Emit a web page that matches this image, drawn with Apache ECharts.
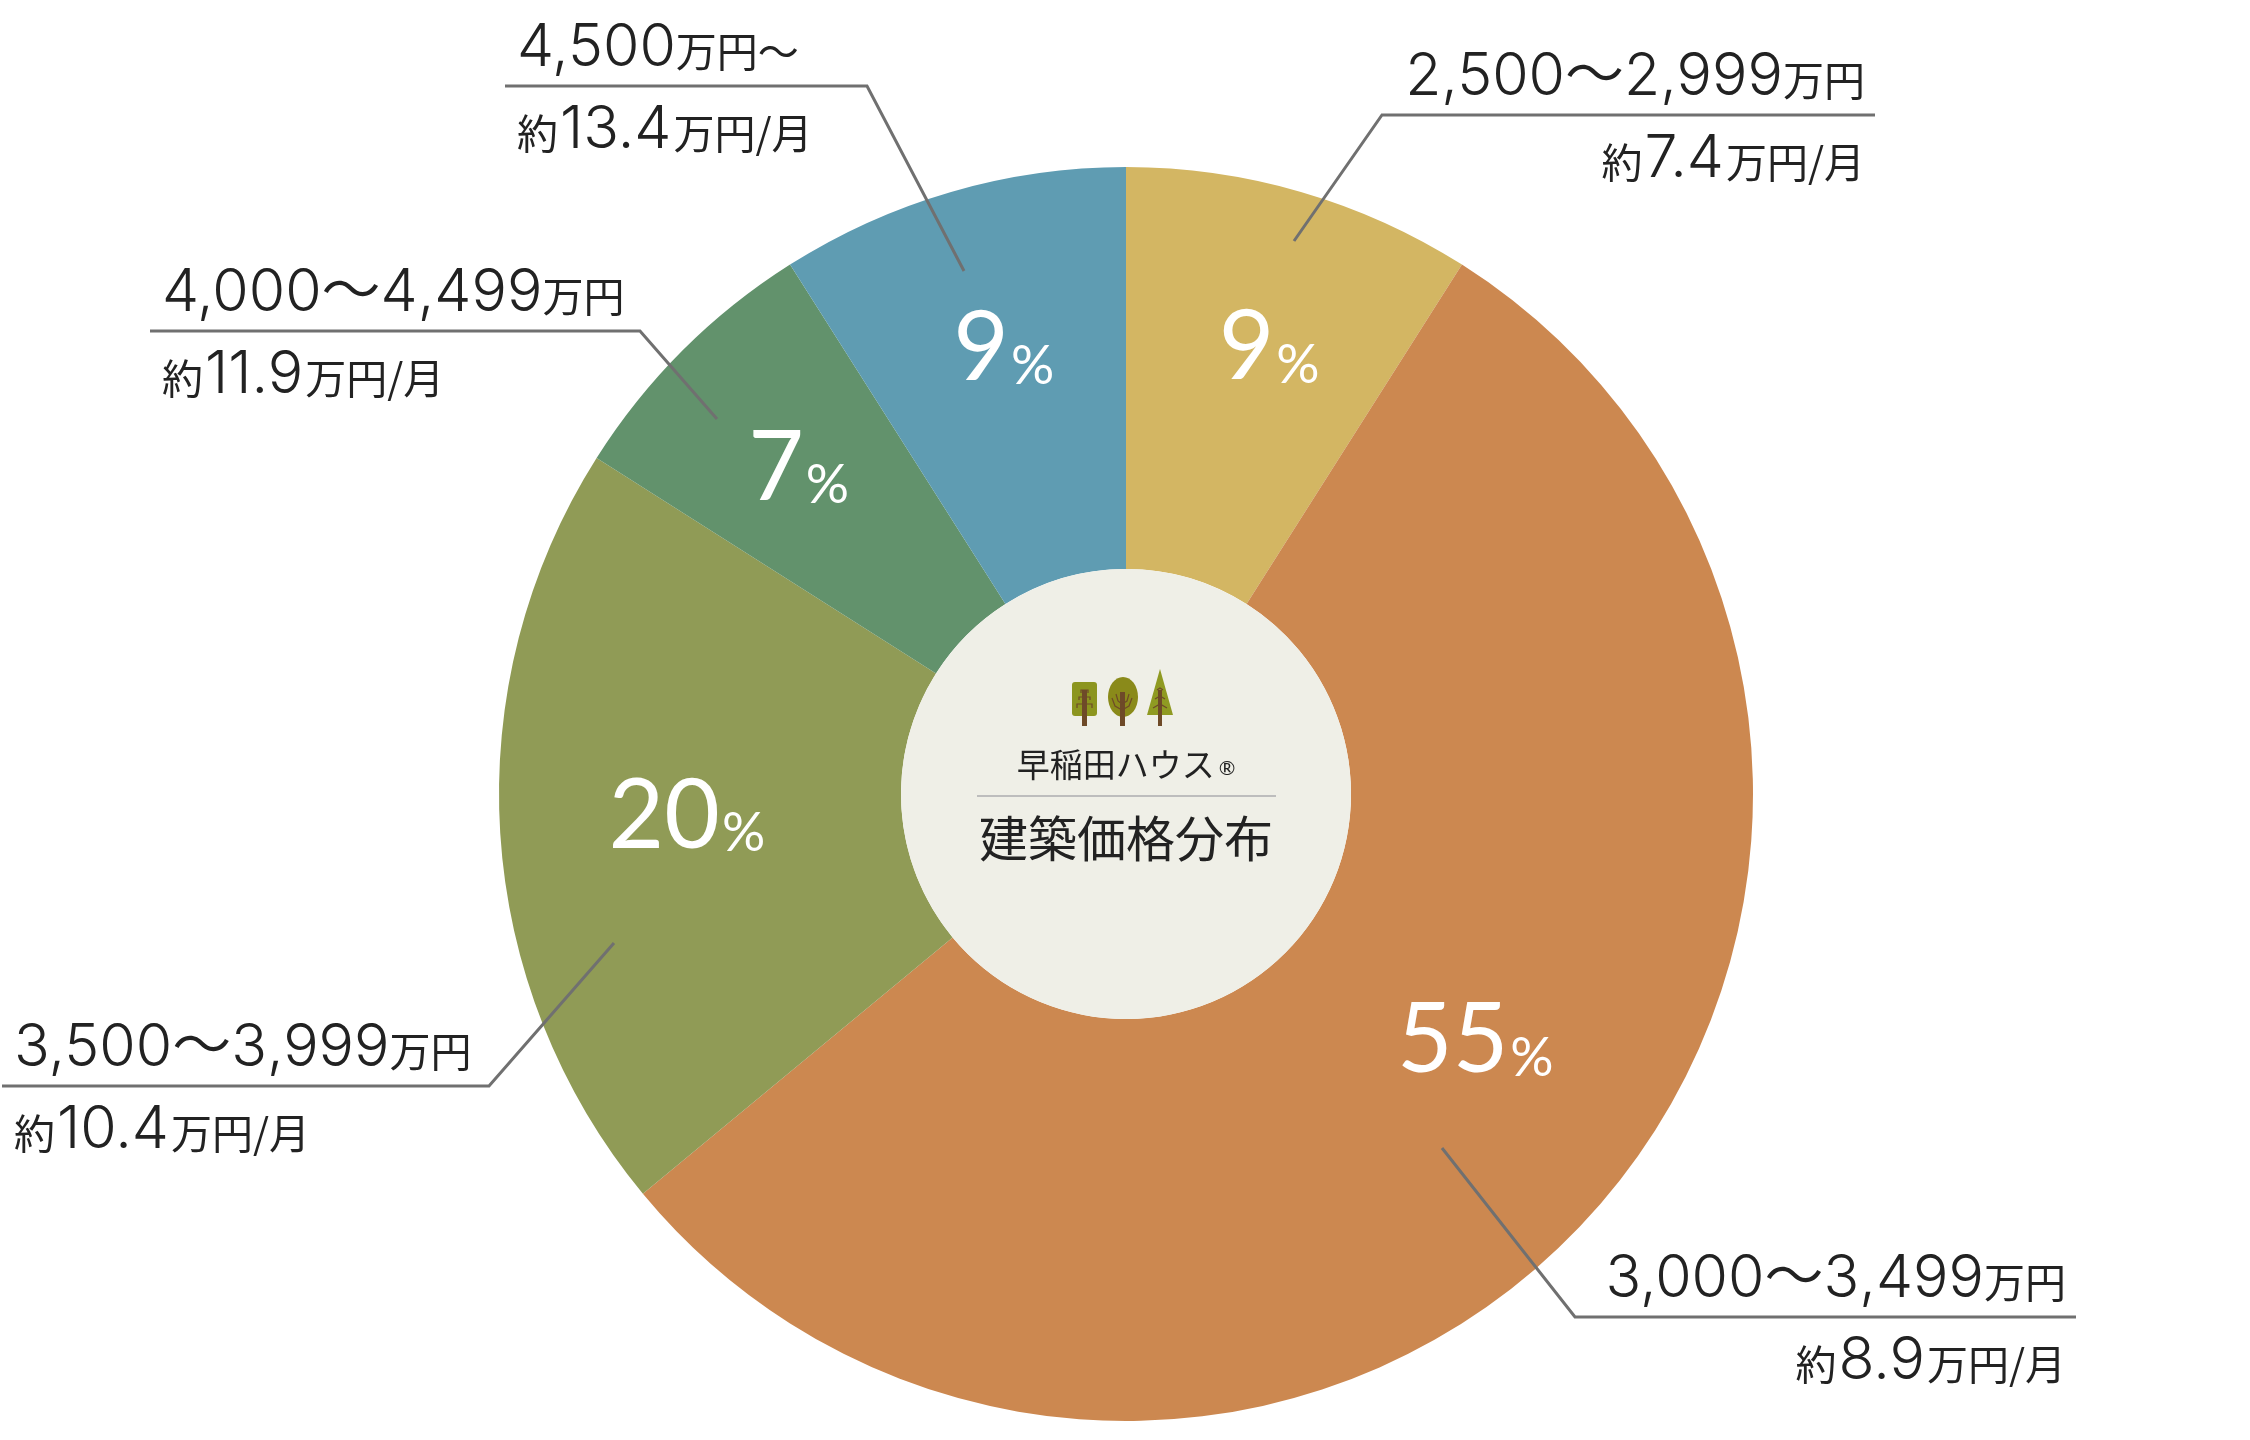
<!DOCTYPE html>
<html><head><meta charset="utf-8">
<script src="https://cdn.jsdelivr.net/npm/echarts@6/dist/echarts.min.js"></script>
<style>html,body{margin:0;padding:0;background:#fff}#c{width:2250px;height:1440px}</style>
</head><body><div id="c"></div>
<script>
// ---- data ----
const rangeMain = ['2,500～2,999', '3,000～3,499', '3,500～3,999', '4,000～4,499', '4,500'];
const rangeUnit = ['万円', '万円', '万円', '万円', '万円～'];
const shares = [9, 55, 20, 7, 9];
const monthly = ['7.4', '8.9', '10.4', '11.9', '13.4'];

// ---- styles / layout ----
const palette = ['#d3b663', '#cc8850', '#909b56', '#62926c', '#5f9cb2'];
const CX = 1126, CY = 794, R = 627, R0 = 225;
const NUMF = 'Inter, "Noto Sans CJK JP", sans-serif';
const JPF = '"Noto Sans CJK JP", sans-serif';
const PCTF = 'Lato, "Noto Sans", sans-serif';
// leader layout: start point, elbow, end x of horizontal rule, side
const leaders = [
  { s: [1294, 241], e: [1382, 115], x2: 1875, side: 'right' },
  { s: [1442, 1148], e: [1575, 1317], x2: 2076, side: 'right' },
  { s: [614, 943], e: [489, 1086], x2: 2, side: 'left' },
  { s: [717, 419], e: [640, 331], x2: 150, side: 'left' },
  { s: [964, 271], e: [867, 86], x2: 505, side: 'left' }
];
const pctNudge = [[14, -3], [2, -61], [23, -8], [0, 0], [7, -2]];

const data = shares.map((v, i) => ({ name: rangeMain[i] + rangeUnit[i], value: v }));
const clear = 'rgba(0,0,0,0)';

const chart = echarts.init(document.getElementById('c'), null, { renderer: 'canvas' });
const txt = '#222222';
const LH = 82;
const option = {
  animation: false,
  backgroundColor: '#ffffff',
  series: [
    {
      type: 'pie', silent: true, center: [CX, CY], radius: [R0, R], startAngle: 90, clockwise: true,
      avoidLabelOverlap: false, label: { show: false }, labelLine: { show: false },
      itemStyle: { borderWidth: 0 },
      color: palette,
      data: data
    },
    {
      type: 'pie', silent: true, center: [CX, CY], radius: [293, R], startAngle: 90, clockwise: true,
      avoidLabelOverlap: false, z: 3,
      itemStyle: { color: clear, borderWidth: 0 },
      label: {
        show: true, position: 'inside',
        formatter: p => '{p|' + p.value + '}{s|%}',
        rich: {
          p: { fontFamily: PCTF, fontSize: 96, color: '#ffffff', verticalAlign: 'bottom', lineHeight: 100 },
          s: { fontFamily: PCTF, fontSize: 54, color: '#ffffff', verticalAlign: 'bottom', lineHeight: 100, padding: [0, 0, 4, 2] }
        }
      },
      labelLine: { show: false },
      labelLayout: p => ({ dx: pctNudge[p.dataIndex][0], dy: pctNudge[p.dataIndex][1] }),
      data: data
    },
    {
      type: 'pie', silent: true, center: [CX, CY], radius: [R0, R], startAngle: 90, clockwise: true,
      avoidLabelOverlap: false, z: 4,
      itemStyle: { color: clear, borderWidth: 0 },
      label: {
        show: true, position: 'outside',
        formatter: p => {
          const i = p.dataIndex;
          return '{a|' + rangeMain[i] + '}{u|' + rangeUnit[i] + '}\n{y|約}{b|' + monthly[i] + '}{u2|万円/月}';
        },
        rich: {
          a: { fontFamily: NUMF, fontSize: 59, fontWeight: 350, color: txt, lineHeight: LH, verticalAlign: 'bottom' },
          u: { fontFamily: JPF, fontSize: 41, color: txt, lineHeight: LH, verticalAlign: 'bottom', padding: [0, 0, 6, 0] },
          y: { fontFamily: JPF, fontSize: 41, color: txt, lineHeight: LH, verticalAlign: 'bottom', padding: [0, 2, 6, 0] },
          b: { fontFamily: NUMF, fontSize: 59, fontWeight: 350, color: txt, lineHeight: LH, verticalAlign: 'bottom' },
          u2: { fontFamily: JPF, fontSize: 41, color: txt, lineHeight: LH, verticalAlign: 'bottom', padding: [0, 0, 6, 2] }
        }
      },
      labelLine: { show: true, lineStyle: { color: '#707070', width: 3 } },
      labelLayout: p => {
        const L = leaders[p.dataIndex];
        const right = L.side === 'right';
        return {
          x: right ? L.x2 - 10 : L.x2 + 12,
          y: L.e[1] - 8,
          align: right ? 'right' : 'left',
          verticalAlign: 'middle',
          labelLinePoints: [L.s, L.e, [L.x2, L.e[1]]]
        };
      },
      data: data
    }
  ],
  graphic: [
    { type: 'circle', z: 10, silent: true, shape: { cx: CX, cy: CY, r: R0 }, style: { fill: '#efefe7' } },
    // trees
    { type: 'rect', z: 11, shape: { x: 1072, y: 682, width: 25, height: 34, r: 3 }, style: { fill: '#8c951f' } },
    { type: 'ellipse', z: 11, shape: { cx: 1123, cy: 697, rx: 15, ry: 20 }, style: { fill: '#8a8a1a' } },
    { type: 'polygon', z: 11, shape: { points: [[1160, 669], [1173, 715], [1147, 715]] }, style: { fill: '#8f9a22' } },
    { type: 'rect', z: 12, shape: { x: 1082, y: 690, width: 5, height: 36 }, style: { fill: '#6e4a28' } },
    { type: 'rect', z: 12, shape: { x: 1120, y: 692, width: 5, height: 34 }, style: { fill: '#6e4a28' } },
    { type: 'rect', z: 12, shape: { x: 1158, y: 690, width: 4, height: 36 }, style: { fill: '#6e4a28' } },
    { type: 'polyline', z: 12, shape: { points: [[1077, 708], [1077, 704], [1092, 704], [1092, 708]] }, style: { stroke: '#6e4a28', lineWidth: 1.2, fill: null } },
    { type: 'polyline', z: 12, shape: { points: [[1079, 700], [1079, 697], [1090, 697], [1090, 700]] }, style: { stroke: '#6e4a28', lineWidth: 1.2, fill: null } },
    { type: 'polyline', z: 12, shape: { points: [[1081, 693], [1081, 690], [1088, 690], [1088, 693]] }, style: { stroke: '#6e4a28', lineWidth: 1.2, fill: null } },
    { type: 'polyline', z: 12, shape: { points: [[1112, 698], [1115, 706], [1122, 710], [1129, 706], [1132, 698]] }, style: { stroke: '#6e4a28', lineWidth: 1.2, fill: null } },
    { type: 'polyline', z: 12, shape: { points: [[1116, 694], [1118, 701], [1122, 704], [1127, 701], [1129, 694]] }, style: { stroke: '#6e4a28', lineWidth: 1.2, fill: null } },
    { type: 'polyline', z: 12, shape: { points: [[1153, 708], [1160, 704], [1167, 708]] }, style: { stroke: '#6e4a28', lineWidth: 1.2, fill: null } },
    { type: 'polyline', z: 12, shape: { points: [[1155, 699], [1160, 696], [1165, 699]] }, style: { stroke: '#6e4a28', lineWidth: 1.2, fill: null } },
    { type: 'polyline', z: 12, shape: { points: [[1157, 690], [1160, 688], [1163, 690]] }, style: { stroke: '#6e4a28', lineWidth: 1.2, fill: null } },
    // brand + title
    {
      type: 'text', z: 12, x: CX, y: 761,
      style: {
        text: '{a|早稲田ハウス}{r|®}', align: 'center', verticalAlign: 'middle',
        rich: {
          a: { fontFamily: JPF, fontSize: 33, fill: '#222222', verticalAlign: 'bottom', lineHeight: 40 },
          r: { fontFamily: 'Lato, sans-serif', fontSize: 20, fill: '#222222', verticalAlign: 'bottom', lineHeight: 40, padding: [0, 0, 2, 4] }
        }
      }
    },
    { type: 'line', z: 12, shape: { x1: 977, y1: 796, x2: 1276, y2: 796 }, style: { stroke: '#bdbdbd', lineWidth: 2 } },
    {
      type: 'text', z: 12, x: CX, y: 838,
      style: { text: '建築価格分布', fontFamily: JPF, fontSize: 49, fontWeight: 400, fill: '#222222', align: 'center', verticalAlign: 'middle' }
    }
  ]
};
chart.setOption(option);
</script>
</body></html>
